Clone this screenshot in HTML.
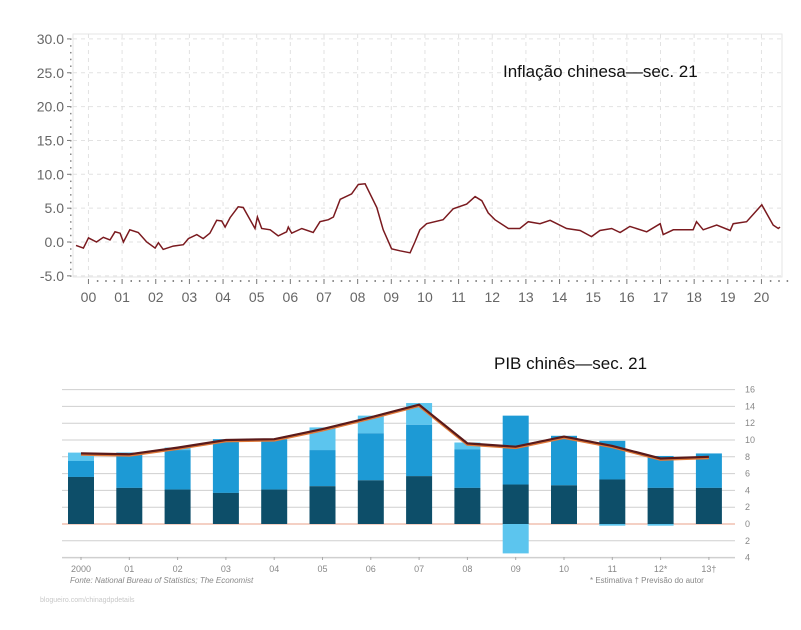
<!DOCTYPE html>
<html><head><meta charset="utf-8"><style>
body{margin:0;background:#fff;width:801px;height:625px;overflow:hidden;font-family:"Liberation Sans",sans-serif}
</style></head><body>
<svg id="s" width="801" height="625" viewBox="0 0 801 625" xmlns="http://www.w3.org/2000/svg">
<rect width="801" height="625" fill="#fff"/>
<g id="top"></g>
<g id="bot"></g>
<text x="503" y="77" font-size="17" fill="#111">Inflação chinesa—sec. 21</text>
<text x="494" y="369" font-size="17" fill="#111">PIB chinês—sec. 21</text>
<text x="70" y="583" font-size="8" font-style="italic" fill="#888">Fonte: National Bureau of Statistics; The Economist</text>
<text x="590" y="583" font-size="8" fill="#888">* Estimativa  † Previsão do autor</text>
<text x="40" y="602" font-size="7" fill="#c8c8c8">blogueiro.com/chinagdpdetails</text>
</svg>
<script>
// ---- inflation data ----
const infDates=[2000.00,2000.22,2000.37,2000.61,2000.81,2001.01,2001.16,2001.31,2001.41,2001.60,2001.85,2002.10,2002.35,2002.45,2002.59,2002.89,2003.19,2003.34,2003.59,2003.78,2003.98,2004.18,2004.33,2004.43,2004.58,2004.82,2004.97,2005.32,2005.39,2005.52,2005.77,2006.01,2006.26,2006.31,2006.41,2006.71,2007.05,2007.25,2007.50,2007.65,2007.85,2008.19,2008.39,2008.59,2008.94,2009.13,2009.38,2009.63,2009.93,2010.07,2010.22,2010.42,2010.91,2011.21,2011.61,2011.86,2012.06,2012.25,2012.45,2012.85,2013.19,2013.44,2013.79,2014.09,2014.58,2014.98,2015.32,2015.57,2015.92,2016.17,2016.46,2016.96,2017.36,2017.45,2017.75,2018.34,2018.44,2018.64,2019.04,2019.44,2019.53,2019.93,2020.18,2020.38,2020.72,2020.87,2020.92];
const infValues=[-0.5,-0.9,0.6,0,0.7,0.3,1.5,1.3,0,1.8,1.4,0,-0.9,-0.1,-1.1,-0.6,-0.4,0.5,1.1,0.5,1.3,3.2,3.1,2.2,3.6,5.2,5.1,2.0,3.7,2.0,1.8,0.9,1.5,2.2,1.3,2.0,1.4,3.0,3.3,3.7,6.3,7.1,8.5,8.6,5.1,1.8,-1.0,-1.3,-1.6,0.0,1.8,2.7,3.3,4.9,5.6,6.7,6.1,4.3,3.3,2.0,2.0,3.0,2.7,3.2,2.0,1.7,0.8,1.7,2.0,1.4,2.3,1.5,2.7,1.1,1.8,1.8,3.0,1.8,2.5,1.7,2.7,3.0,4.4,5.5,2.5,2.0,2.2];
const infYTicks=[30,25,20,15,10,5,0,-5];
const infXLabels=["00","01","02","03","04","05","06","07","08","09","10","11","12","13","14","15","16","17","18","19","20"];
// ---- GDP data ----
const gdpYears=["2000","01","02","03","04","05","06","07","08","09","10","11","12*","13†"];
const gdpDark=[5.6,4.3,4.1,3.7,4.1,4.5,5.2,5.7,4.3,4.7,4.6,5.3,4.3,4.3];
const gdpMid=[7.5,8.5,8.8,10.1,10.1,8.8,10.8,11.8,8.9,12.9,10.5,9.9,8.1,8.4];
const gdpLight=[8.5,8.5,9.1,10.1,10.1,11.5,12.9,14.4,9.7,-3.5,10.5,-0.2,-0.2,8.4];
const gdpLine=[8.4,8.3,9.1,10.0,10.1,11.3,12.7,14.2,9.6,9.2,10.4,9.3,7.8,8.0];
const gdpYTicks=[16,14,12,10,8,6,4,2,0,-2,-4];

const NS="http://www.w3.org/2000/svg";
function mk(p,t,a){const e=document.createElementNS(NS,t);for(const k in a)e.setAttribute(k,a[k]);p.appendChild(e);return e;}
// top axes
const T=document.getElementById('top');
const xI=d=>76+(d-2000)*33.65;
const yI=v=>242-v*6.77;
mk(T,'rect',{x:73,y:34,width:709,height:243,fill:'none',stroke:'#e6e6e6'});
infYTicks.forEach(v=>{
 const g=mk(T,'line',{x1:73,x2:782,y1:yI(v),y2:yI(v),stroke:'#e2e2e2','stroke-dasharray':'4,4'});
 
 mk(T,'line',{x1:67,x2:71,y1:yI(v),y2:yI(v),stroke:'#777'});
 const t=mk(T,'text',{x:64,y:yI(v)+5,'text-anchor':'end','font-size':14,fill:'#666'});
 t.textContent=v.toFixed(1);
 
});
for(let v=-5;v<=30;v+=1){mk(T,'rect',{x:70,y:yI(v)-0.5,width:1.5,height:1.5,fill:'#888'});}
infXLabels.forEach((l,i)=>{
 const x=xI(2000+i+0.37);
 const g=mk(T,'line',{x1:x,x2:x,y1:34,y2:277,stroke:'#e2e2e2','stroke-dasharray':'4,4'});
 
 mk(T,'line',{x1:x,x2:x,y1:279,y2:284,stroke:'#777'});
 for(let k=1;k<4;k++)mk(T,'rect',{x:x+k*8.4,y:280,width:1.5,height:2,fill:'#888'});
 const t=mk(T,'text',{x:x,y:302,'text-anchor':'middle','font-size':14,fill:'#666'});
 t.textContent=l;
 
});
let d='';infDates.forEach((dt,i)=>{d+=(i?'L':'M')+xI(dt).toFixed(1)+','+yI(infValues[i]).toFixed(1);});
const ln=mk(T,'path',{d:d,fill:'none',stroke:'#7a1a1f','stroke-width':1.5});


// bottom
const B=document.getElementById('bot');
const xB=i=>81+i*48.3;
const yB=v=>524-v*8.4;
gdpYTicks.forEach(v=>{
 const g=mk(B,'line',{x1:62,x2:735,y1:yB(v),y2:yB(v),stroke:v===0?'#e9a089':'#cfcfcf','stroke-width':v===-4?1.5:1});
 
 const t=mk(B,'text',{x:745,y:yB(v)+3,'font-size':9,fill:'#888'});
 t.textContent=Math.abs(v);
 
});
gdpYears.forEach((yr,i)=>{
 const x=xB(i)-13,w=26;
 const L=gdpLight[i],M=gdpMid[i],D=gdpDark[i];
 let r;
 if(L>M){r=mk(B,'rect',{x:x,y:yB(L),width:w,height:yB(M)-yB(L),fill:'#5cc5ee'});}
 if(L<0){r=mk(B,'rect',{x:x,y:yB(0),width:w,height:yB(L)-yB(0),fill:'#5cc5ee'});}
 r=mk(B,'rect',{x:x,y:yB(M),width:w,height:yB(D)-yB(M),fill:'#1d9ad5'});
 
 r=mk(B,'rect',{x:x,y:yB(D),width:w,height:yB(0)-yB(D),fill:'#0d4e69'});
 
 mk(B,'line',{x1:xB(i),x2:xB(i),y1:557,y2:560,stroke:'#aaa'});
 const t=mk(B,'text',{x:xB(i),y:572,'text-anchor':'middle','font-size':9,fill:'#888'});
 t.textContent=yr;
 
});
let d2='';gdpLine.forEach((v,i)=>{d2+=(i?'L':'M')+xB(i).toFixed(1)+','+yB(v).toFixed(1);});
mk(B,'path',{d:d2,fill:'none',stroke:'#e07a3a','stroke-width':3.2,transform:'translate(0,0.8)'});
const l2=mk(B,'path',{d:d2,fill:'none',stroke:'#5a1a1a','stroke-width':2.2});

</script>
</body></html>
